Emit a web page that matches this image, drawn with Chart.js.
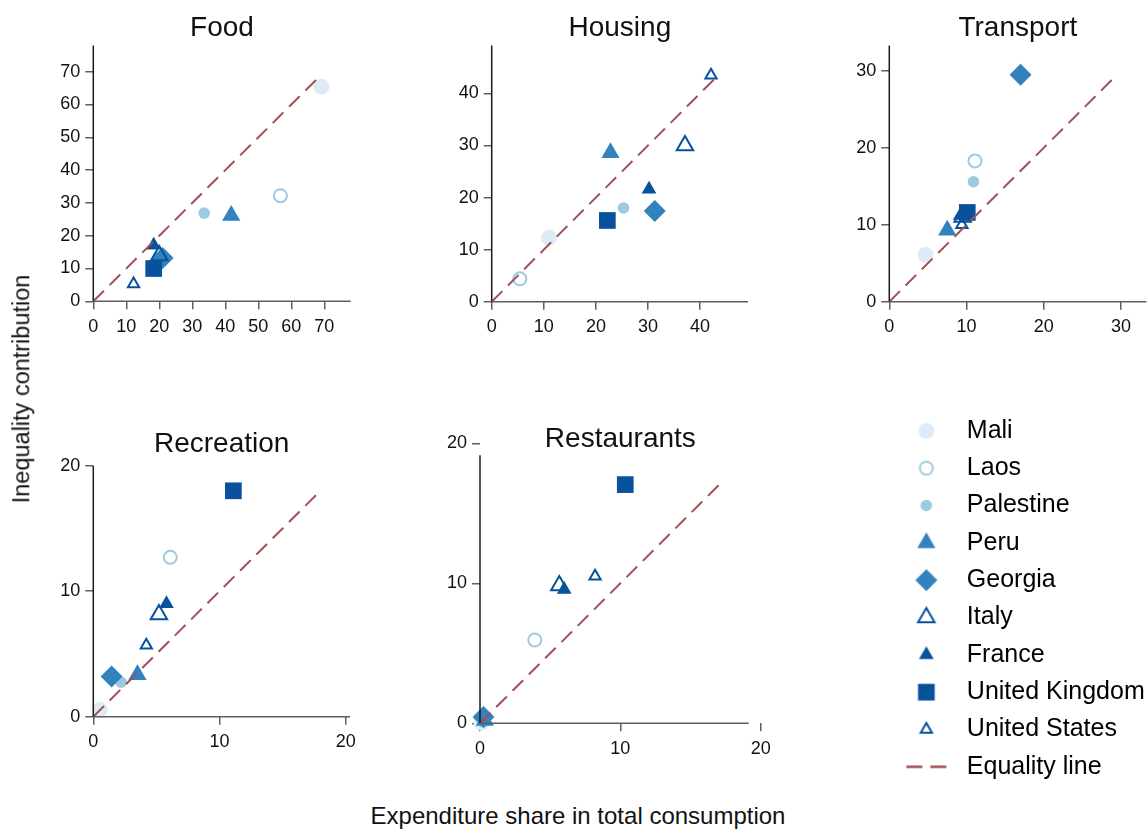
<!DOCTYPE html>
<html>
<head>
<meta charset="utf-8">
<title>Expenditure share and inequality contribution</title>
<script src="https://cdn.jsdelivr.net/npm/chart.js@4.4.1/dist/chart.umd.js"></script>
<style>
  html, body { margin: 0; padding: 0; background: #fff; }
  body { width: 1147px; height: 829px; position: relative; overflow: hidden;
         font-family: "Liberation Sans", Arial, sans-serif; color: #111; }
  canvas { position: absolute; }
  .axis-title { position: absolute; white-space: nowrap; line-height: 1; }
  #ytitle { left: 22px; top: 389px; font-size: 23.5px; transform: translate(-50%, -50%) rotate(-90deg); }
  #xtitle { left: 578px; top: 816px; font-size: 24px; transform: translate(-50%, -50%); }
</style>
</head>
<body>
<canvas id="food"></canvas>
<canvas id="housing"></canvas>
<canvas id="transport"></canvas>
<canvas id="recreation"></canvas>
<canvas id="restaurants"></canvas>
<canvas id="legend"></canvas>
<div id="ytitle" class="axis-title">Inequality contribution</div>
<div id="xtitle" class="axis-title">Expenditure share in total consumption</div>
<script>
// ---- data -------------------------------------------------------------
const countries = ['Mali', 'Laos', 'Palestine', 'Peru', 'Georgia', 'Italy', 'France', 'United Kingdom', 'United States'];
const categories = ['Food', 'Housing', 'Transport', 'Recreation', 'Restaurants'];

// expenditure share (x) and inequality contribution (y), one entry per country
const foodShare               = [69.1, 56.7, 33.6, 41.8, 21.0, 20.0, 18.3, 18.3, 12.2];
const foodContribution        = [65.5, 32.2, 26.9, 26.2, 13.2, 14.0, 17.1, 10.0, 5.3];
const housingShare            = [11.0, 5.4, 25.3, 22.8, 31.3, 37.1, 30.2, 22.2, 42.1];
const housingContribution     = [12.3, 4.4, 18.0, 28.6, 17.4, 30.0, 21.6, 15.6, 43.5];
const transportShare          = [4.7, 11.1, 10.9, 7.5, 17.0, 9.5, 9.2, 10.1, 9.4];
const transportContribution   = [6.1, 18.3, 15.6, 9.3, 29.5, 11.0, 11.2, 11.6, 10.0];
const recreationShare         = [0.5, 6.1, 2.2, 3.5, 1.45, 5.2, 5.8, 11.1, 4.2];
const recreationContribution  = [0.55, 12.7, 2.75, 3.35, 3.2, 8.15, 9.0, 18.0, 5.7];
const restaurantsShare        = [0.1, 3.9, 0.2, 0.35, 0.25, 5.65, 6.0, 10.35, 8.2];
const restaurantsContribution = [0.05, 5.95, 0.1, 0.2, 0.45, 9.85, 9.55, 17.05, 10.5];

// tick labels
const foodTicks        = [0, 10, 20, 30, 40, 50, 60, 70];
const housingTicks     = [0, 10, 20, 30, 40];
const transportTicks   = [0, 10, 20, 30];
const recreationTicks  = [0, 10, 20];
const restaurantsTicks = [0, 10, 20];

// ---- styles -----------------------------------------------------------
const FONT = '"Liberation Sans", Arial, sans-serif';
Chart.defaults.font.family = FONT;
Chart.defaults.color = '#111';

const LINE_COLOR = '#a24f56';
const markers = [
  { style: 'circle',   radius: 8,    fill: '#deebf7' },
  { style: 'circle',   radius: 6.5,  stroke: '#9ecae1', width: 2 },
  { style: 'circle',   radius: 5.8,  fill: '#9ecae1' },
  { style: 'triangle', radius: 10.5, fill: '#3182bd' },
  { style: 'rectRot',  radius: 11,   fill: '#3182bd' },
  { style: 'triangle', radius: 9.5,  stroke: '#08519c', width: 2 },
  { style: 'triangle', radius: 8.5,  fill: '#08519c' },
  { style: 'rect',     radius: 11.8, fill: '#08519c' },
  { style: 'triangle', radius: 6.5,  stroke: '#08519c', width: 2 }
];

// panel geometry: canvas box, y-axis width, paddings, axis ranges
const panels = [
  { id: 'food', title: categories[0], x: foodShare, y: foodContribution, ticks: foodTicks,
    box: { left: 0, top: 0, w: 363, h: 342 }, yWidth: 93.3, padRight: 12.3, padBottom: 0.7,
    titlePad: { top: 11.2, bottom: 0.7 }, xMax: 78, yMax: 78, xEnd: 78, yEnd: 78 },
  { id: 'housing', title: categories[1], x: housingShare, y: housingContribution, ticks: housingTicks,
    box: { left: 400, top: 0, w: 360, h: 342 }, yWidth: 91.7, padRight: 12, padBottom: 0.3,
    titlePad: { top: 11.2, bottom: 0.7 }, xMax: 49.2, yMax: 49.2, xEnd: 49.2, yEnd: 49.2 },
  { id: 'transport', title: categories[2], x: transportShare, y: transportContribution, ticks: transportTicks,
    box: { left: 800, top: 0, w: 360, h: 342 }, yWidth: 89.3, padRight: 13.6, padBottom: 0.3,
    titlePad: { top: 11.2, bottom: 0.7 }, xMax: 33.3, yMax: 33.3, xEnd: 33.3, yEnd: 33.3 },
  { id: 'recreation', title: categories[3], x: recreationShare, y: recreationContribution, ticks: recreationTicks,
    box: { left: 0, top: 400, w: 363, h: 357 }, yWidth: 93.3, padRight: 12.9, padBottom: 0.3,
    titlePad: { top: 27.5, bottom: 4.6 }, xMax: 20.35, yMax: 20, xEnd: 20.35, yEnd: 20 },
  { id: 'restaurants', title: categories[4], x: restaurantsShare, y: restaurantsContribution, ticks: restaurantsTicks,
    box: { left: 390, top: 390, w: 390, h: 374 }, yWidth: 90, padRight: 19.3, padBottom: 0.7,
    titlePad: { top: 32.5, bottom: -12.8 }, xMax: 20, yMax: 20, xEnd: 19.15, yEnd: 19.15 }
];

// axis lines drawn from the origin to a given value, on top of the markers
const axisLinePlugin = {
  id: 'axisLines',
  afterDatasetsDraw(chart, args, opts) {
    const { ctx, scales: { x, y } } = chart;
    const x0 = x.getPixelForValue(0), y0 = y.getPixelForValue(0);
    ctx.save();
    ctx.lineWidth = 1.5;
    ctx.strokeStyle = '#1a1a1a';
    ctx.beginPath();
    ctx.moveTo(x0, y0);
    ctx.lineTo(x0, y.getPixelForValue(opts.yEnd));
    ctx.stroke();
    ctx.strokeStyle = '#5f5f5f';
    ctx.beginPath();
    ctx.moveTo(x0, y0);
    ctx.lineTo(x.getPixelForValue(opts.xEnd), y0);
    ctx.stroke();
    ctx.restore();
  }
};

function axisOptions(max, ticks, pad) {
  return {
    type: 'linear', min: 0, max: max,
    border: { display: false },
    grid: { display: true, drawOnChartArea: false, drawTicks: true, tickLength: 8,
            color: '#5f5f5f', lineWidth: 1.5 },
    ticks: { autoSkip: false, maxRotation: 0, minRotation: 0, padding: pad,
             font: { size: 18 }, color: '#111' },
    afterBuildTicks: s => { s.ticks = ticks.map(v => ({ value: v })); }
  };
}

function makePanel(p) {
  const canvas = document.getElementById(p.id);
  canvas.width = p.box.w;
  canvas.height = p.box.h;
  canvas.style.left = p.box.left + 'px';
  canvas.style.top = p.box.top + 'px';

  const datasets = countries.map((name, i) => {
    const m = markers[i];
    return {
      label: name,
      data: [{ x: p.x[i], y: p.y[i] }],
      pointStyle: m.style,
      pointRadius: m.radius,
      pointHoverRadius: m.radius,
      pointBackgroundColor: m.fill || 'rgba(0,0,0,0)',
      pointBorderColor: m.stroke || m.fill,
      pointBorderWidth: m.width || 0,
      order: countries.length - i,
      clip: false
    };
  });
  // 45-degree equality line up to the largest value in the panel
  const top = Math.max(...p.x, ...p.y);
  datasets.push({
    label: 'Equality line',
    data: [{ x: 0, y: 0 }, { x: top, y: top }],
    showLine: true,
    borderColor: LINE_COLOR,
    borderWidth: 2,
    borderDash: [15, 8],
    pointRadius: 0,
    order: 0,
    clip: false
  });

  const xAxis = axisOptions(p.xMax, p.ticks, 7);
  xAxis.afterFit = s => { s.height = 40; };
  const yAxis = axisOptions(p.yMax, p.ticks, 5);
  yAxis.afterFit = s => { s.width = p.yWidth; };

  new Chart(canvas, {
    type: 'scatter',
    data: { datasets },
    options: {
      responsive: false,
      animation: false,
      events: [],
      layout: { padding: { left: 0, top: 0, right: p.padRight, bottom: p.padBottom } },
      scales: { x: xAxis, y: yAxis },
      plugins: {
        legend: { display: false },
        tooltip: { enabled: false },
        title: {
          display: true, text: p.title, fullSize: false,
          font: { size: 28, weight: 'normal' }, color: '#111',
          padding: p.titlePad
        },
        axisLines: { xEnd: p.xEnd, yEnd: p.yEnd }
      }
    },
    plugins: [axisLinePlugin]
  });
}

panels.forEach(makePanel);

// ---- legend -----------------------------------------------------------
function drawMarker(g, m, cx, cy) {
  g.fillStyle = m.fill || 'rgba(0,0,0,0)';
  g.strokeStyle = m.stroke || m.fill;
  g.lineWidth = m.width || 0;
  if (Chart.helpers && Chart.helpers.drawPoint) {
    Chart.helpers.drawPoint(g, { pointStyle: m.style, radius: m.radius, borderWidth: m.width || 0, rotation: 0 }, cx, cy);
    return;
  }
  const r = m.radius;
  g.beginPath();
  if (m.style === 'circle') g.arc(cx, cy, r, 0, Math.PI * 2);
  else if (m.style === 'triangle') {
    g.moveTo(cx, cy - r);
    g.lineTo(cx + r * Math.sqrt(3) / 2, cy + r / 2);
    g.lineTo(cx - r * Math.sqrt(3) / 2, cy + r / 2);
    g.closePath();
  } else if (m.style === 'rectRot') {
    g.moveTo(cx, cy - r); g.lineTo(cx + r, cy); g.lineTo(cx, cy + r); g.lineTo(cx - r, cy); g.closePath();
  } else {
    const s = r * Math.SQRT1_2;
    g.rect(cx - s, cy - s, 2 * s, 2 * s);
  }
  g.fill();
  if (m.width) g.stroke();
}

function swatch(draw) {
  const c = document.createElement('canvas');
  c.width = 44; c.height = 31;
  draw(c.getContext('2d'));
  return c;
}

const legendItems = countries.map((name, i) => ({
  text: name,
  pointStyle: swatch(g => drawMarker(g, markers[i], 22, 15.5)),
  fillStyle: markers[i].fill || markers[i].stroke,
  strokeStyle: markers[i].stroke || markers[i].fill,
  lineWidth: 0,
  hidden: false,
  datasetIndex: i
}));
legendItems.push({
  text: 'Equality line',
  pointStyle: swatch(g => {
    g.strokeStyle = LINE_COLOR;
    g.lineWidth = 2.5;
    g.setLineDash([16, 8]);
    g.beginPath();
    g.moveTo(2, 15.5);
    g.lineTo(42, 15.5);
    g.stroke();
  }),
  fillStyle: LINE_COLOR,
  strokeStyle: LINE_COLOR,
  lineWidth: 0,
  hidden: false,
  datasetIndex: countries.length
});

const legendCanvas = document.getElementById('legend');
legendCanvas.width = 600;
legendCanvas.height = 420;
legendCanvas.style.left = '886px';
legendCanvas.style.top = '406px';

new Chart(legendCanvas, {
  type: 'scatter',
  data: { datasets: [] },
  options: {
    responsive: false,
    animation: false,
    events: [],
    scales: { x: { display: false }, y: { display: false } },
    plugins: {
      tooltip: { enabled: false },
      legend: {
        display: true,
        position: 'left',
        align: 'start',
        labels: {
          usePointStyle: true,
          pointStyleWidth: 56,
          padding: 12.33,
          color: '#111',
          font: { size: 25 },
          generateLabels: () => legendItems
        }
      }
    }
  }
});
</script>
</body>
</html>
